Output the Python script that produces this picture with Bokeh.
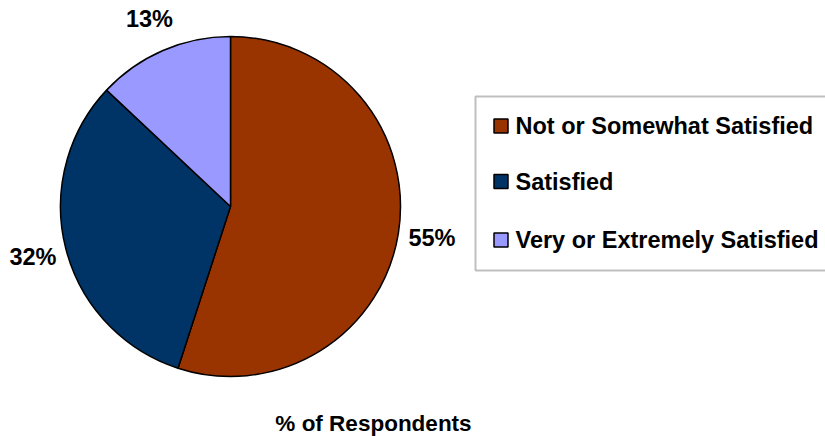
import math
from bokeh.plotting import figure
from bokeh.models import Range1d, ColumnDataSource
from bokeh.core.properties import value
from bokeh.embed import file_html
from bokeh.resources import INLINE

# ---- data ----
categories = ["Not or Somewhat Satisfied", "Satisfied", "Very or Extremely Satisfied"]
percents = [55, 32, 13]
colors = ["#993300", "#003366", "#9999FF"]
axis_title = "% of Respondents"

W, H = 825, 436
FONT = value("Liberation Sans")


def Y(y):
    return H - y


p = figure(width=W, height=H, x_range=Range1d(0, W), y_range=Range1d(0, H),
           x_axis_type=None, y_axis_type=None, toolbar_location=None,
           output_backend="svg", min_border=0, outline_line_color=None,
           background_fill_color="white", border_fill_color="white")
p.grid.visible = False

# pie
cx, cy, R = 230, Y(206), 170
total = sum(percents)
starts, ends, lx, ly, labels = [], [], [], [], []
cum = 0.0
for v in percents:
    a0 = math.pi / 2 - 2 * math.pi * cum / total
    cum += v
    a1 = math.pi / 2 - 2 * math.pi * cum / total
    starts.append(a0)
    ends.append(a1)
    mid = (a0 + a1) / 2
    lr = R * 1.2
    lx.append(cx + lr * math.cos(mid))
    ly.append(cy + lr * math.sin(mid))
    labels.append(f"{v}%")

src = ColumnDataSource(dict(start=starts, end=ends, color=colors))
p.wedge(x=cx, y=cy, radius=R, start_angle="start", end_angle="end",
        direction="clock", fill_color="color", line_color="black",
        line_width=1.5, source=src)

p.text(x=lx, y=ly, text=labels, text_font=FONT, text_font_style="bold",
       text_font_size="23.5px", text_align="center", text_baseline="middle",
       text_color="black")

# legend
p.quad(left=[475], right=[840], top=[Y(96)], bottom=[Y(270)],
       fill_color="white", line_color="#BFBFBF", line_width=2)
rows_y = [Y(125.5), Y(181), Y(239.5)]
p.rect(x=[500.5] * 3, y=rows_y, width=14, height=14, fill_color=colors,
       line_color="black", line_width=1.5)
p.text(x=[515] * 3, y=rows_y, text=categories, text_font=FONT,
       text_font_style="bold", text_font_size="23.5px", text_align="left",
       text_baseline="middle", text_color="black")

# axis title
p.text(x=[373], y=[Y(423)], text=[axis_title], text_font=FONT,
       text_font_style="bold", text_font_size="22.5px", text_align="center",
       text_baseline="middle", text_color="black")

open("out.html", "w").write(file_html(p, INLINE))
